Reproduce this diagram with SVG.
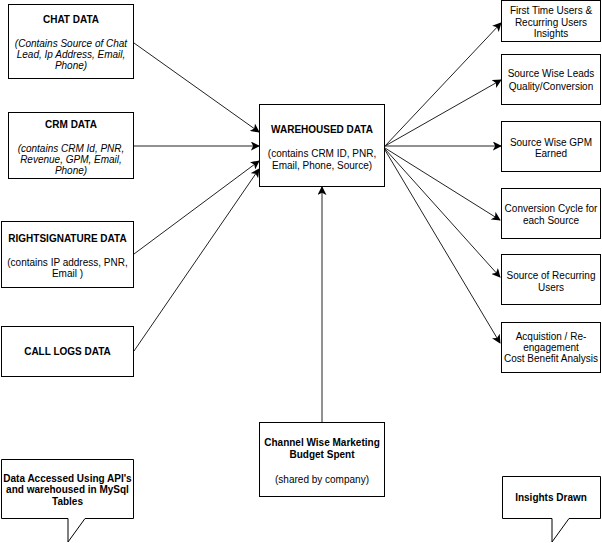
<svg xmlns="http://www.w3.org/2000/svg" width="602" height="543" viewBox="0 0 602 543">
<defs>
<marker id="arr" viewBox="0 0 10 10" refX="9" refY="5" markerWidth="9" markerHeight="9" markerUnits="userSpaceOnUse" orient="auto">
<path d="M0,0 L10,5 L0,10 L2.5,5 Z" fill="#000"/>
</marker>
</defs>
<style>
rect, .shape { fill: #fff; stroke: #000; stroke-width: 1; }
text { font-family: "Liberation Sans", Arial, sans-serif; font-size: 10px; fill: #000; text-anchor: middle; }
.b { font-weight: bold; }
.i { font-style: italic; }
.edge { fill: none; stroke: #222; stroke-width: 1; marker-end: url(#arr); }
</style>
<rect x="0" y="0" width="602" height="543" style="fill:#fff;stroke:none"/>
<g id="connectors">
<line class="edge" x1="134" y1="43" x2="259" y2="132"/>
<line class="edge" x1="134" y1="146" x2="259" y2="146"/>
<line class="edge" x1="134" y1="254" x2="259" y2="161"/>
<line class="edge" x1="134" y1="351" x2="259" y2="169"/>
<line class="edge" x1="322" y1="422" x2="322" y2="187"/>
<line class="edge" x1="385" y1="146" x2="501" y2="23"/>
<line class="edge" x1="385" y1="146" x2="501" y2="80"/>
<line class="edge" x1="385" y1="146" x2="501" y2="146"/>
<line class="edge" x1="385" y1="148" x2="500" y2="220"/>
<line class="edge" x1="385" y1="149" x2="500" y2="277"/>
<line class="edge" x1="385" y1="150" x2="500" y2="343"/>
</g>
<g id="chat">
<rect x="8.5" y="4.5" width="125" height="74"/>
<text class="b" x="71" y="23">CHAT DATA</text>
<text class="i" x="71" y="47">(Contains Source of Chat</text>
<text class="i" x="71" y="58">Lead, Ip Address, Email,</text>
<text class="i" x="71" y="69">Phone)</text>
</g>
<g id="crm">
<rect x="8.5" y="112.5" width="125" height="66"/>
<text class="b" x="71" y="128">CRM DATA</text>
<text class="i" x="71" y="152">(contains CRM Id, PNR,</text>
<text class="i" x="71" y="163">Revenue, GPM, Email,</text>
<text class="i" x="71" y="174">Phone)</text>
</g>
<g id="rightsignature">
<rect x="1.5" y="221.5" width="132" height="66"/>
<text class="b" x="67.5" y="242">RIGHTSIGNATURE DATA</text>
<text x="67.5" y="266">(contains IP address, PNR,</text>
<text x="67.5" y="277">Email )</text>
</g>
<g id="calllogs">
<rect x="1.5" y="326.5" width="132" height="50"/>
<text class="b" x="67.5" y="355">CALL LOGS DATA</text>
</g>
<g id="warehouse">
<rect x="259.5" y="104.5" width="125" height="82"/>
<text class="b" x="322" y="133">WAREHOUSED DATA</text>
<text x="322" y="157">(contains CRM ID, PNR,</text>
<text x="322" y="169">Email, Phone, Source)</text>
</g>
<g id="channel">
<rect x="259.5" y="422.5" width="125" height="74"/>
<text class="b" x="322" y="446">Channel Wise Marketing</text>
<text class="b" x="322" y="458">Budget Spent</text>
<text x="322" y="483">(shared by company)</text>
</g>
<g id="out1">
<rect x="501.5" y="0.5" width="99" height="41"/>
<text x="551" y="14">First Time Users &amp;</text>
<text x="551" y="26">Recurring Users</text>
<text x="551" y="37">Insights</text>
</g>
<g id="out2">
<rect x="501.5" y="54.5" width="99" height="50"/>
<text x="551" y="77">Source Wise Leads</text>
<text x="551" y="90">Quality/Conversion</text>
</g>
<g id="out3">
<rect x="501.5" y="121.5" width="99" height="50"/>
<text x="551" y="146">Source Wise GPM</text>
<text x="551" y="157">Earned</text>
</g>
<g id="out4">
<rect x="501.5" y="188.5" width="99" height="50"/>
<text x="551" y="212">Conversion Cycle for</text>
<text x="551" y="224">each Source</text>
</g>
<g id="out5">
<rect x="501.5" y="254.5" width="99" height="50"/>
<text x="551" y="279">Source of Recurring</text>
<text x="551" y="291">Users</text>
</g>
<g id="out6">
<rect x="501.5" y="322.5" width="99" height="50"/>
<text x="551" y="340">Acquistion / Re-</text>
<text x="551" y="351">engagement</text>
<text x="551" y="362">Cost Benefit Analysis</text>
</g>
<g id="callout-left">
<path class="shape" d="M1.5,459.5 H133.5 V518.5 H85 L68,542 V518.5 H1.5 Z"/>
<text class="b" x="67.5" y="482">Data Accessed Using API's</text>
<text class="b" x="67.5" y="493">and warehoused in MySql</text>
<text class="b" x="67.5" y="505">Tables</text>
</g>
<g id="callout-right">
<path class="shape" d="M502.5,476.5 H600.5 V518.5 H569 L552,542 V518.5 H502.5 Z"/>
<text class="b" x="551" y="501">Insights Drawn</text>
</g>
</svg>
